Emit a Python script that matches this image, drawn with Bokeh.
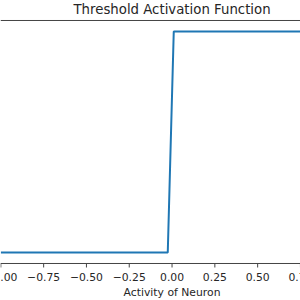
import math
from bokeh.plotting import figure
from bokeh.models import Range1d, Span
from bokeh.core.properties import value
from bokeh.embed import file_html
from bokeh.resources import INLINE

# data
activity = [-1.0, -0.025, 0.01, 1.0]
output = [0, 0, 1, 1]
x_ticks = [-1.0, -0.75, -0.5, -0.25, 0.0, 0.25, 0.5, 0.75, 1.0]
x_tick_labels = ["\u22121.00", "\u22120.75", "\u22120.50", "\u22120.25", "0.00", "0.25", "0.50", "0.75", "1.00"]
title_text = "Threshold Activation Function"
xlabel_text = "Activity of Neuron"

# axes limits (matplotlib-style 5% margins); the visible window is a crop of the axes
y_lo, y_hi = -0.05, 1.05

p = figure(width=300, height=300, output_backend="svg", toolbar_location=None,
           x_range=Range1d(-1.002, 0.7503), y_range=Range1d(-0.2175, 1.1405),
           min_border=0, x_axis_location=None, y_axis_location=None)
p.outline_line_color = None
p.xgrid.visible = False
p.ygrid.visible = False
p.background_fill_color = "white"
p.border_fill_color = "white"

spine = "#444444"
txt = "#262626"
font = value("DejaVu Sans")

# spines
p.add_layout(Span(location=y_hi, dimension="width", line_color=spine, line_width=1))
p.add_layout(Span(location=y_lo, dimension="width", line_color=spine, line_width=1))

# step curve
p.line(activity, output, line_color="#1f77b4", line_width=2)

# x ticks and labels
p.ray(x=x_ticks, y=[y_lo] * len(x_ticks), length=4, length_units="screen",
      angle=-math.pi / 2, line_color=spine, line_width=1)
p.text(x=x_ticks, y=[y_lo] * len(x_ticks), text=x_tick_labels, text_align="center",
       text_baseline="alphabetic", y_offset=13.5, text_font=font,
       text_font_size="10.8px", text_color=txt)

# axis label and title
p.text(x=[0], y=[y_lo], text=[xlabel_text], text_align="center", text_baseline="alphabetic",
       y_offset=29, text_font=font, text_font_size="10.8px", text_color=txt)
p.text(x=[0], y=[y_hi], text=[title_text], text_align="center", text_baseline="alphabetic",
       y_offset=-10.5, text_font=font, text_font_size="13.3px", text_color=txt)

open("out.html", "w").write(file_html(p, INLINE))
